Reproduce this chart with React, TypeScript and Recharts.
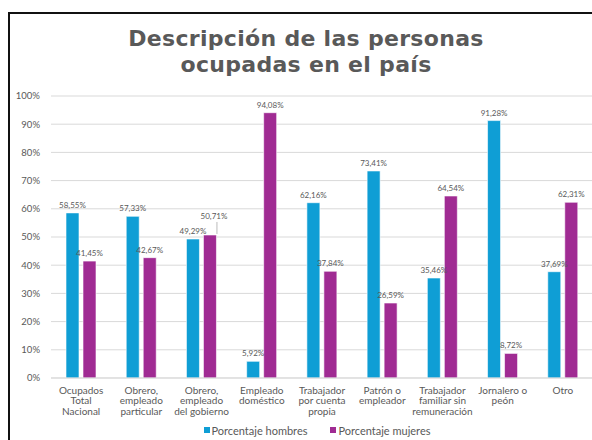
import React from 'react';
import { BarChart, Bar, XAxis, YAxis, CartesianGrid, Legend, LabelList } from 'recharts';

const categories = [
  'Ocupados\nTotal\nNacional',
  'Obrero,\nempleado\nparticular',
  'Obrero,\nempleado\ndel gobierno',
  'Empleado\ndoméstico',
  'Trabajador\npor cuenta\npropia',
  'Patrón o\nempleador',
  'Trabajador\nfamiliar sin\nremuneración',
  'Jornalero o\npeón',
  'Otro',
];
const hombres = [58.55, 57.33, 49.29, 5.92, 62.16, 73.41, 35.46, 91.28, 37.69];
const mujeres = [41.45, 42.67, 50.71, 94.08, 37.84, 26.59, 64.54, 8.72, 62.31];
const yTicks = [0, 10, 20, 30, 40, 50, 60, 70, 80, 90, 100];
const seriesNames = ['Porcentaje hombres', 'Porcentaje mujeres'];
const titleLines = ['Descripción de las personas', 'ocupadas en el país'];

const colors = ['#0F9ED5', '#A02B93'];
const textGray = '#595959';
const smallFont = 'Lato, "Liberation Sans", sans-serif';

const data = categories.map((c, i) => ({ cat: c, hombres: hombres[i], mujeres: mujeres[i] }));

const fmt = (v: any) => `${Number(v).toFixed(2).replace('.', ',')}%`;

const CatTick = (props: any) => {
  const { x, y, payload } = props;
  const lines = String(payload.value).split('\n');
  return (
    <g transform={`translate(${x},${y})`}>
      {lines.map((l, i) => (
        <text key={i} x={0} y={7.6 + i * 10.5} textAnchor="middle" fill={textGray} fontSize={10} fontFamily={smallFont}>
          {l}
        </text>
      ))}
    </g>
  );
};

// Label for the second series: when it would collide with the neighbouring
// first-series label (values nearly equal), lift it and draw a leader line.
const MujeresLabel = (props: any) => {
  const { x, y, width, value, index } = props;
  const other = hombres[index];
  const collide = Math.abs(Number(value) - other) < 4;
  const cx = x + width / 2;
  if (!collide) {
    return (
      <text x={cx} y={y - 5} textAnchor="middle" fill={textGray} fontSize={8} fontFamily={smallFont}>
        {fmt(value)}
      </text>
    );
  }
  const lx = cx + 4;
  const ly = y - 16;
  return (
    <g>
      <line x1={lx + 3} y1={ly + 3} x2={lx + 3} y2={y - 1} stroke="#a6a6a6" strokeWidth={0.75} />
      <text x={lx} y={ly} textAnchor="middle" fill={textGray} fontSize={8} fontFamily={smallFont}>
        {fmt(value)}
      </text>
    </g>
  );
};

const LegendContent = () => (
  <div
    style={{
      display: 'flex',
      justifyContent: 'center',
      alignItems: 'center',
      height: 20,
      paddingLeft: 31,
      boxSizing: 'border-box',
      fontFamily: smallFont,
      fontSize: 11,
      color: textGray,
    }}
  >
    {seriesNames.map((n, i) => (
      <div key={i} style={{ display: 'flex', alignItems: 'center', marginRight: i === 0 ? 23 : 0 }}>
        <span style={{ display: 'inline-block', width: 6, height: 6, background: colors[i], marginRight: 2 }} />
        <span>{n}</span>
      </div>
    ))}
  </div>
);

export default function App() {
  return (
    <div
      style={{
        position: 'absolute',
        left: 8,
        top: 12,
        width: 584,
        height: 428,
        borderLeft: '2px solid #111',
        borderTop: '2px solid #111',
        boxSizing: 'border-box',
        overflow: 'hidden',
        background: '#fff',
      }}
    >
      <div
        style={{
          position: 'absolute',
          left: 0,
          top: 12,
          width: 592,
          textAlign: 'center',
          fontFamily: '"DejaVu Sans", sans-serif',
          fontWeight: 'bold',
          fontSize: 22,
          letterSpacing: 0.3,
          lineHeight: '26px',
          color: textGray,
          zIndex: 2,
        }}
      >
        {titleLines.map((t, i) => (
          <div key={i}>{t}</div>
        ))}
      </div>
      <BarChart
        width={600}
        height={426}
        data={data}
        margin={{ top: 82, right: 17, left: 0, bottom: 0 }}
        barSize={13}
        barGap={4}
      >
        <CartesianGrid vertical={false} stroke="#d9d9d9" />
        <XAxis
          dataKey="cat"
          interval={0}
          tickLine={false}
          axisLine={{ stroke: '#d9d9d9' }}
          height={42}
          tick={<CatTick />}
        />
        <YAxis
          width={41}
          domain={[0, 100]}
          ticks={yTicks}
          tickLine={false}
          axisLine={false}
          tickMargin={5}
          tickFormatter={(v: number) => `${v}%`}
          tick={{ fill: textGray, fontSize: 9.5, fontFamily: smallFont }}
        />
        <Legend verticalAlign="bottom" height={20} content={<LegendContent />} />
        <Bar dataKey="hombres" name={seriesNames[0]} fill={colors[0]} stroke="#fff" strokeWidth={0.6} isAnimationActive={false}>
          <LabelList dataKey="hombres" position="top" formatter={fmt} fill={textGray} fontSize={8} fontFamily={smallFont} />
        </Bar>
        <Bar dataKey="mujeres" name={seriesNames[1]} fill={colors[1]} stroke="#fff" strokeWidth={0.6} isAnimationActive={false}>
          <LabelList dataKey="mujeres" content={<MujeresLabel />} />
        </Bar>
      </BarChart>
    </div>
  );
}
